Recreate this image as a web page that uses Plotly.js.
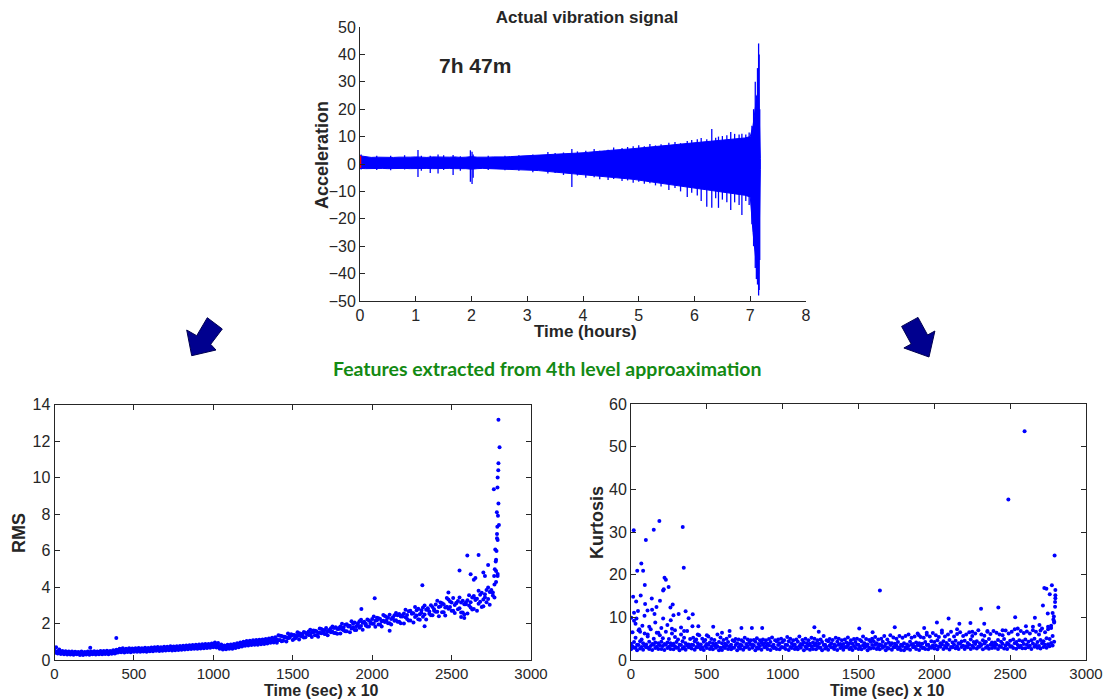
<!DOCTYPE html>
<html>
<head>
<meta charset="utf-8">
<script src="https://cdn.plot.ly/plotly-3.0.1.min.js"></script>
<style>html,body{margin:0;padding:0;background:#fff;}#chart{width:1112px;height:700px;}</style>
</head>
<body>
<div id="chart"></div>
<script>
// ---------- Actual vibration signal (hours vs acceleration envelope) ----------
const vibT = [0,0.1,0.2,0.3,0.4,0.5,0.6,0.7,0.8,0.9,
  1.0,1.1,1.2,1.3,1.4,1.5,1.6,1.7,1.8,1.9,
  2.0,2.1,2.2,2.3,2.4,2.5,2.6,2.7,2.8,2.9,
  3.0,3.1,3.2,3.3,3.4,3.5,3.6,3.7,3.8,3.9,
  4.0,4.1,4.2,4.3,4.4,4.5,4.6,4.7,4.8,4.9,
  5.0,5.1,5.2,5.3,5.4,5.5,5.6,5.7,5.8,5.9,
  6.0,6.1,6.2,6.3,6.4,6.5,6.6,6.7,6.8,6.9,
  7.0,7.05,7.1,7.15,7.18];
const vibUp = [3.0,2.6,2.4,2.5,2.4,2.5,2.4,2.5,2.4,2.5,
  2.6,2.5,2.4,2.6,2.5,2.4,2.5,2.6,2.4,2.5,
  2.7,2.5,2.4,2.5,2.6,2.5,2.6,2.7,2.8,2.9,
  3.0,3.0,3.1,3.3,3.4,3.5,3.6,3.7,3.9,4.0,
  4.1,4.3,4.4,4.6,4.8,5.0,5.1,5.3,5.5,5.6,
  5.8,6.0,6.1,6.3,6.5,6.7,6.9,7.1,7.3,7.5,
  7.7,7.9,8.1,8.3,8.5,8.7,8.9,9.1,9.3,9.5,
  10,14,22,28,2];
const vibLo = [-1.6,-1.7,-1.6,-1.7,-1.6,-1.7,-1.6,-1.7,-1.6,-1.7,
  -1.8,-1.7,-1.6,-1.7,-1.8,-1.7,-1.6,-1.7,-1.8,-1.7,
  -1.9,-1.7,-1.6,-1.7,-1.8,-1.8,-1.9,-2.0,-2.0,-2.1,
  -2.2,-2.3,-2.4,-2.6,-2.8,-3.0,-3.1,-3.3,-3.5,-3.6,
  -3.8,-4.0,-4.2,-4.4,-4.6,-4.8,-5.0,-5.2,-5.4,-5.6,
  -5.8,-6.0,-6.3,-6.6,-6.9,-7.2,-7.5,-7.8,-8.1,-8.4,
  -8.7,-9.0,-9.3,-9.6,-9.9,-10.2,-10.5,-10.8,-11.1,-11.4,
  -12,-25,-35,-40,-2];
// individual spikes: time, positive peak, negative peak
const spikeT  = [0.02,0.3,0.55,0.8,1.04,1.1,1.26,1.4,1.5,1.67,1.8,1.98,2.01,2.03,2.3,2.6,2.85,3.1,3.37,3.5,3.65,3.8,3.9,4.05,4.2,4.3,4.45,4.55,4.7,4.8,4.9,5.0,5.1,5.2,5.3,5.4,5.54,5.65,5.75,5.87,5.95,6.05,6.12,6.22,6.31,6.38,6.43,6.5,6.58,6.65,6.72,6.8,6.85,6.92,6.98,7.03,7.06,7.09,7.11,7.13,7.15,7.16,7.17];
const spikeHi = [3.5,3,3,3.2,5.1,3,3,3.5,3.2,3.3,2.8,5,4.5,3.5,3,3,3.2,3.5,4.4,4,4.2,5.5,4.6,4.8,5.5,4.8,5.2,6,5.8,6.2,6.5,6.8,6.5,7.3,6.8,7.2,7.8,8,7.6,8.4,8.8,9,9.5,9,12.8,9.6,10,10.2,10.5,11.7,11,10.8,11,10.8,11.5,14,20,30,25,35,44,40,20];
const spikeLo = [-2,-2.2,-2.3,-2,-4.7,-2.5,-3.3,-3.5,-2.2,-4,-2.5,-6.5,-7.3,-5,-2.2,-2.3,-2.5,-3,-3.5,-3.3,-4,-8.4,-4.2,-5,-4.8,-5.6,-5.8,-5.5,-6.2,-6,-6.8,-6.5,-7.2,-7,-7.8,-8.2,-9.5,-8.8,-10,-12,-10.5,-11.5,-13.5,-15.6,-16,-12.5,-16,-13,-14,-16.8,-14,-15,-18.6,-13.5,-15,-22,-30,-38,-42,-44,-48,-46,-35];
const redT = [0,0];
const redY = [-1.5,3];

// ---------- sample positions for the feature plots (Time (sec) x 10) ----------
const sampleX = [0,20,40,60,80,100,120,140,160,180,200,220,240,260,280,300,320,340,360,380,
  400,420,440,460,480,500,520,540,560,580,600,620,640,660,680,700,720,740,760,780,
  800,820,840,860,880,900,920,940,960,980,1000,1020,1040,1060,1080,1100,1120,1140,1160,1180,
  1200,1220,1240,1260,1280,1300,1320,1340,1360,1380,1400,1420,1440,1460,1480,1500,1520,1540,1560,1580,
  1600,1620,1640,1660,1680,1700,1720,1740,1760,1780,1800,1820,1840,1860,1880,1900,1920,1940,1960,1980,
  2000,2020,2040,2060,2080,2100,2120,2140,2160,2180,2200,2220,2240,2260,2280,2300,2320,2340,2360,2380,
  2400,2420,2440,2460,2480,2500,2520,2540,2560,2580,2600,2620,2640,2660,2680,2700,2720,2740,2760,2780];
const sampleXb = [10,30,50,70,90,110,130,150,170,190,210,230,250,270,290,310,330,350,370,390,
  410,430,450,470,490,510,530,550,570,590,610,630,650,670,690,710,730,750,770,790,
  810,830,850,870,890,910,930,950,970,990,1010,1030,1050,1070,1090,1110,1130,1150,1170,1190,
  1210,1230,1250,1270,1290,1310,1330,1350,1370,1390,1410,1430,1450,1470,1490,1510,1530,1550,1570,1590,
  1610,1630,1650,1670,1690,1710,1730,1750,1770,1790,1810,1830,1850,1870,1890,1910,1930,1950,1970,1990,
  2010,2030,2050,2070,2090,2110,2130,2150,2170,2190,2210,2230,2250,2270,2290,2310,2330,2350,2370,2390,
  2410,2430,2450,2470,2490,2510,2530,2550,2570,2590,2610,2630,2650,2670,2690,2710,2730,2750,2770,2790];

// RMS cloud readings (rows 1 and 3 at sampleX, rows 2 and 4 at sampleXb)
const rmsR1 = [.38,.36,.33,.32,.30,.30,.29,.31,.28,.28, .30,.29,.31,.30,.31,.31,.33,.32,.34,.36,
  .41,.43,.41,.44,.42,.45,.45,.45,.46,.45, .48,.48,.51,.49,.51,.52,.53,.52,.54,.55,
  .56,.58,.59,.60,.61,.62,.63,.64,.66,.67, .70,.68,.61,.57,.59,.61,.62,.66,.70,.74,
  .78,.80,.82,.83,.84,.86,.88,.91,.94,.96,
  0.95,1.09,1.06,1.01,1.22,1.10,1.20,1.12,1.29,1.25,
  1.37,1.26,1.36,1.27,1.46,1.42,1.36,1.52,1.48,1.44,
  1.45,1.63,1.57,1.52,1.79,1.64,1.77,1.66,1.89,1.84,
  1.98,1.82,1.95,1.84,2.08,2.02,1.95,2.15,2.09,2.02,
  2.00,2.25,2.16,2.06,2.44,2.21,2.37,2.22,2.53,2.45,
  2.64,2.40,2.61,2.44,2.81,2.70,2.57,2.78,2.60,2.50,
  2.55,2.88,2.79,2.70,3.19,2.94,3.17,3.03,3.53,4.27];
const rmsR2 = [.45,.41,.40,.37,.36,.35,.34,.36,.35,.33, .35,.34,.36,.36,.37,.36,.38,.38,.39,.41,
  .47,.49,.48,.50,.49,.51,.52,.51,.53,.52, .54,.55,.57,.56,.58,.58,.60,.59,.61,.62,
  .63,.65,.66,.67,.68,.69,.70,.71,.73,.75, .78,.76,.68,.64,.66,.68,.70,.74,.78,.81,
  .86,.88,.90,.91,.93,.94,.96,1.00,1.02,1.05,
  1.08,1.03,1.23,1.19,1.33,1.17,1.31,1.31,1.23,1.42,
  1.37,1.52,1.36,1.50,1.51,1.42,1.63,1.55,1.48,1.70,
  1.69,1.57,1.84,1.73,1.64,1.91,1.86,2.04,1.83,2.02,
  1.98,2.18,1.95,2.15,2.15,2.02,2.32,2.18,2.09,2.38,
  2.34,2.17,2.53,2.35,2.23,2.59,2.50,2.75,2.45,2.70,
  2.64,2.95,2.61,2.92,2.91,2.70,3.12,2.83,2.60,3.05,
  2.99,2.77,3.29,3.08,2.91,3.44,3.34,3.72,3.42,4.60];
const rmsR3 = [.52,.48,.45,.43,.42,.41,.40,.41,.40,.39, .41,.40,.42,.41,.43,.43,.44,.43,.46,.48,
  .54,.56,.55,.57,.56,.58,.59,.58,.60,.59, .61,.62,.64,.63,.65,.66,.67,.66,.68,.69,
  .70,.72,.73,.74,.75,.76,.77,.78,.80,.82, .87,.84,.76,.72,.74,.77,.79,.83,.87,.91,
  .95,.97,.99,1.00,1.02,1.03,1.05,1.09,1.12,1.15,
  1.13,1.33,1.28,1.23,1.37,1.37,1.33,1.46,1.40,1.49,
  1.56,1.50,1.60,1.48,1.70,1.63,1.58,1.74,1.75,1.70,
  1.84,1.78,1.96,1.88,2.00,1.85,2.13,2.04,1.98,2.17,
  2.25,2.15,2.29,2.12,2.41,2.32,2.25,2.45,2.45,2.38,
  2.55,2.46,2.70,2.56,2.73,2.51,2.87,2.75,2.66,2.91,
  3.04,2.90,3.11,2.87,3.31,3.15,3.02,3.23,3.15,3.05,
  3.27,3.16,3.51,3.36,3.58,3.32,3.84,3.72,3.70,4.88];
const rmsR4 = [.70,.58,.50,.48,.46,.47,.45,.44,.46,.44, .46,.47,.48,.46,.50,.49,.51,.49,.53,.56,
  .61,.64,.62,.64,.63,.65,.66,.65,.67,.66, .68,.70,.71,.70,.73,.73,.75,.74,.76,.77,
  .78,.80,.81,.82,.83,.85,.86,.87,.88,.91, .96,.93,.85,.80,.83,.85,.88,.92,.96,1.00,
  1.04,1.06,1.08,1.09,1.11,1.13,1.15,1.18,1.22,1.25,
  1.35,1.31,1.28,1.45,1.41,1.37,1.52,1.44,1.54,1.42,
  1.66,1.62,1.58,1.73,1.65,1.75,1.63,1.84,1.79,1.75,
  1.99,1.93,1.87,2.12,2.06,2.00,2.21,2.10,2.22,2.08,
  2.38,2.31,2.25,2.46,2.35,2.48,2.32,2.58,2.52,2.45,
  2.76,2.67,2.58,2.90,2.81,2.72,2.98,2.83,3.00,2.78,
  3.24,3.15,3.06,3.40,3.21,3.40,3.12,3.43,3.25,3.15,
  3.55,3.43,3.35,3.80,3.69,3.60,3.97,3.83,4.14,4.71];
// RMS isolated points and final run-up
const rmsOutX = [389,225,2016,1932,2316,2599,2670,2766,2775,2780,2783,2786,2788,2790,2792,2795,2795,2795,2798,2802,2790,2785,2778,2772,2768,2786,2794,2789,2550,2620,2650,2700,2730,2110,2330,2580,2640,2710,2480,2560];
const rmsOutY = [1.21,0.67,3.39,2.79,4.1,5.72,5.76,9.36,6.05,5.5,5.97,6.67,7.3,6.58,7.9,13.17,10.78,8.57,7.4,11.66,10.0,8.1,5.4,4.97,4.6,6.9,10.4,9.45,4.9,4.7,4.5,4.8,5.2,1.6,1.85,2.3,4.4,4.6,3.7,2.35];

// Kurtosis cloud readings (A and C at sampleX, B and D at sampleXb)
const kurA = [2.5,2.9,2.3,2.7,2.4,3.0,2.6,2.35,2.8,2.55, 2.6,2.35,2.8,2.55,2.5,2.9,2.3,2.7,2.4,3.0,
  2.7,2.4,3.0,2.6,2.35,2.8,2.55,2.5,2.9,2.3, 2.35,2.8,2.55,2.5,2.9,2.3,2.7,2.4,3.0,2.6,
  2.9,2.3,2.7,2.4,3.0,2.6,2.35,2.8,2.55,2.5, 3.0,2.6,2.35,2.8,2.55,2.5,2.9,2.3,2.7,2.4,
  2.55,2.5,2.9,2.3,2.7,2.4,3.0,2.6,2.35,2.8, 2.4,3.0,2.6,2.35,2.8,2.55,2.5,2.9,2.3,2.7,
  2.8,2.55,2.5,2.9,2.3,2.7,2.4,3.0,2.6,2.35, 2.3,2.7,2.4,3.0,2.6,2.35,2.8,2.55,2.5,2.9,
  2.7,2.5,3.1,2.6,2.9,2.45,3.0,2.75,2.55,3.05, 2.6,3.0,2.55,2.85,2.7,3.1,2.5,2.9,2.65,2.8,
  2.9,2.6,3.05,2.7,2.55,3.1,2.8,2.65,3.0,2.75, 2.75,3.0,2.6,3.1,2.85,2.7,3.05,2.9,3.2,3.4];
const kurB = [3.2,2.9,3.5,3.05,3.4,2.95,3.3,3.6,3.1,3.45, 3.3,3.6,3.1,3.45,3.2,2.9,3.5,3.05,3.4,2.95,
  3.5,3.05,3.4,2.95,3.3,3.6,3.1,3.45,3.2,2.9, 3.1,3.45,3.2,2.9,3.5,3.05,3.4,2.95,3.3,3.6,
  3.4,2.95,3.3,3.6,3.1,3.45,3.2,2.9,3.5,3.05, 2.9,3.5,3.05,3.4,2.95,3.3,3.6,3.1,3.45,3.2,
  3.45,3.2,2.9,3.5,3.05,3.4,2.95,3.3,3.6,3.1, 3.05,3.4,2.95,3.3,3.6,3.1,3.45,3.2,2.9,3.5,
  3.6,3.1,3.45,3.2,2.9,3.5,3.05,3.4,2.95,3.3, 2.95,3.3,3.6,3.1,3.45,3.2,2.9,3.5,3.05,3.4,
  3.4,3.15,3.7,3.3,3.55,3.05,3.6,3.25,3.8,3.35, 3.25,3.65,3.35,3.75,3.1,3.5,3.85,3.3,3.6,3.45,
  3.55,3.3,3.8,3.4,3.7,3.2,3.9,3.5,3.35,3.75, 3.6,3.35,3.85,3.5,3.3,3.95,3.55,3.7,4.0,4.3];
const kurC = [3.8,4.2,3.6,4.4,3.9,3.65,4.3,3.75,4.1,3.95, 4.3,3.75,4.1,3.95,3.8,4.2,3.6,4.4,3.9,3.65,
  3.6,4.4,3.9,3.65,4.3,3.75,4.1,3.95,3.8,4.2, 3.95,3.8,4.2,3.6,4.4,3.9,3.65,4.3,3.75,4.1,
  3.65,4.3,3.75,4.1,3.95,3.8,4.2,3.6,4.4,3.9, 4.2,3.6,4.4,3.9,3.65,4.3,3.75,4.1,3.95,3.8,
  4.1,3.95,3.8,4.2,3.6,4.4,3.9,3.65,4.3,3.75, 3.75,4.1,3.95,3.8,4.2,3.6,4.4,3.9,3.65,4.3,
  4.4,3.9,3.65,4.3,3.75,4.1,3.95,3.8,4.2,3.6, 3.9,3.65,4.3,3.75,4.1,3.95,3.8,4.2,3.6,4.4,
  4.2,4.6,3.9,4.4,4.0,4.7,4.1,4.5,3.95,4.35, 4.5,4.0,4.8,4.2,4.4,3.9,4.6,4.3,4.9,4.1,
  4.1,4.7,4.3,4.9,4.0,4.5,4.8,4.2,4.6,4.4, 4.8,4.3,4.6,5.0,4.2,4.7,4.4,5.1,4.9,5.6];
const kurD = [6.5,5.2,7.0,4.8,6.2,5.5,7.2,5.0,6.4,5.8, 5.1,6.6,4.9,7.3,5.4,4.8,6.0,5.2,6.8,4.9,
  5.2,4.8,5.8,5.0,4.7,5.5,4.9,4.7,6.0,5.3, 4.7,5.0,5.6,4.6,4.9,4.8,4.6,5.2,4.8,4.6,
  4.7,5.1,4.6,4.8,4.6,4.9,5.3,4.6,4.8,5.0, 4.6,5.4,5.0,4.6,4.8,5.5,4.7,5.0,4.6,5.2,
  5.0,4.6,4.8,5.6,4.6,4.9,4.7,5.2,5.0,4.6, 4.8,5.3,4.6,4.9,5.0,4.7,5.5,4.9,4.7,5.0,
  5.4,4.8,5.0,5.6,4.8,5.8,5.3,5.0,5.6,5.2, 5.6,6.0,5.2,5.5,6.2,5.4,5.2,5.9,5.5,6.3,
  5.8,5.4,6.4,5.5,6.0,6.6,5.5,6.1,6.5,5.6, 6.0,6.5,5.6,6.2,7.0,6.0,5.7,6.6,6.1,6.8,
  6.4,6.0,5.8,6.9,6.2,6.6,7.2,6.0,6.8,6.3, 6.7,6.2,7.0,6.6,6.0,7.4,6.5,7.2,8.0,9.0];
// Kurtosis isolated points
const kurOutX = [18,68,41,80,98,91,187,150,341,348,221,230,216,212,248,2595,2488,2793,1641,2725,2739,2775,2761,2798,2798,2798,2796,2796,2308,2422,
  14,34,64,93,137,191,275,260,139,168,46,20,2,20,36,89,109,155,212,280,314,360,407,380,262,
  2094,2017,2165,2238,2329,2663,2533,2604,2693,2716,2748,1209,1238,728,797,865,542,444,405,1505,1593,1739,1933,1898,
  30,55,75,120,160,200,240,290,330,60,110,180,270,350,440,500,600,650,
  2780,2785,2790,2770,2788,2450,2550,2650,2350,2150,2250,2050,1950,2700,2750];
const kurOutY = [30.4,22.6,20.9,20.9,28.1,17.6,32.6,30.5,31.2,21.6,19.3,18.8,16.6,16.3,17.1,53.6,37.6,24.5,16.3,16.9,16.7,17.5,15.4,16.4,15.2,14.5,13.6,12.5,12,12.3,
  14.8,13.7,15.1,13.1,14.4,13.9,13,12.3,11.8,12.4,11.5,11.1,9.9,9.2,9.7,10.4,11.6,10.8,9.7,10.5,10.8,11.4,10.7,9.8,9.3,
  9.7,8.8,8.5,8.7,8.5,9.9,10,7.9,8.2,12.8,10.9,7.7,6.6,7.5,7.5,7.5,7.8,7.9,7.9,7.4,6.5,7.7,7.5,5.8,
  8.5,7.2,8.0,7.8,8.8,7.5,8.2,7.0,7.6,6.6,6.0,6.4,6.2,6.8,6.0,5.8,6.4,6.8,
  11,9.5,8.8,7.5,10.2,7,7.4,7.8,6.8,7.2,6.6,6.9,6.4,6.9,7.8];

// ---------- build traces ----------
const BLUE = '#0000ff';
const spX = [], spY = [];
spikeT.forEach((t,i)=>{ spX.push(t,t,null); spY.push(spikeHi[i],spikeLo[i],null); });

const traces = [
  {x: vibT.concat(vibT.slice().reverse()), y: vibUp.concat(vibLo.slice().reverse()),
   type:'scatter', mode:'lines', fill:'toself', fillcolor:BLUE,
   line:{color:BLUE,width:1}, xaxis:'x', yaxis:'y', hoverinfo:'skip', showlegend:false},
  {x: spX, y: spY, type:'scatter', mode:'lines', line:{color:BLUE,width:1.3},
   xaxis:'x', yaxis:'y', connectgaps:false, showlegend:false},
  {x: redT, y: redY, type:'scatter', mode:'lines', line:{color:'#ff0000',width:2.5},
   xaxis:'x', yaxis:'y', showlegend:false}
];
const mk = {color:BLUE, size:4};
function pts(xs, ys, xa, ya){ return {x:xs, y:ys, type:'scatter', mode:'markers', marker:mk, xaxis:xa, yaxis:ya, showlegend:false}; }
traces.push(pts(sampleX, rmsR1,'x2','y2'), pts(sampleXb, rmsR2,'x2','y2'), pts(sampleX, rmsR3,'x2','y2'), pts(sampleXb, rmsR4,'x2','y2'), pts(rmsOutX, rmsOutY,'x2','y2'));
traces.push(pts(sampleX, kurA,'x3','y3'), pts(sampleXb, kurB,'x3','y3'), pts(sampleX, kurC,'x3','y3'), pts(sampleXb, kurD,'x3','y3'), pts(kurOutX, kurOutY,'x3','y3'));

// ---------- layout helpers ----------
const W = 1112, H = 700;
const px = v => v / W, py = v => 1 - v / H;
const AX = '#262626';
const FAM = '"Liberation Sans", Arial, sans-serif';
function axis(range, dtick, dom, anchor, boxed, fs){
  return {range:range, dtick:dtick, tick0:0, domain:dom, anchor:anchor,
    showgrid:false, zeroline:false, showline:true, linecolor:AX, linewidth:1,
    mirror: boxed ? 'ticks' : false, ticks:'inside', ticklen:5, tickcolor:AX,
    tickfont:{family:FAM, size:fs, color:AX}, fixedrange:true};
}
function arrowPath(p){
  return p.map((q,i)=>(i?'L':'M')+px(q[0]).toFixed(5)+','+py(q[1]).toFixed(5)).join(' ')+' Z';
}
const leftArrow  = [[191.7,355.7],[186.7,330],[196.7,335.7],[207.3,317.7],[222.3,329],[210.7,344.3],[216,350]];
const rightArrow = [[929,357],[934.9,331],[927.6,335],[918,317.4],[901.6,326.4],[911.2,344],[903.9,348]];

function lab(text, x, y, size, angle){
  return {text:'<b>'+text+'</b>', x:px(x), y:py(y), xref:'paper', yref:'paper', showarrow:false,
    xanchor:'center', yanchor:'middle', textangle:angle||0,
    font:{family:FAM, size:size, color:AX}};
}

const layout = {
  width:W, height:H, margin:{l:0,r:0,t:0,b:0}, paper_bgcolor:'#fff', plot_bgcolor:'#fff',
  showlegend:false,
  title:{text:'<b>Actual vibration signal</b>', x:px(587), y:py(17), xref:'paper', yref:'paper',
         xanchor:'center', yanchor:'middle', font:{family:FAM, size:17, color:AX}},
  xaxis:  axis([0,8],1,[px(360),px(806)],'y',false,16),
  yaxis:  axis([-50,50],10,[py(301),py(27)],'x',false,16),
  xaxis2: axis([0,3000],500,[px(54.5),px(531)],'y2',true,15),
  yaxis2: axis([0,14],2,[py(660),py(404.5)],'x2',true,16),
  xaxis3: axis([0,3000],500,[px(631),px(1086)],'y3',true,15),
  yaxis3: axis([0,60],10,[py(660),py(404)],'x3',true,16),
  shapes:[
    {type:'path', xref:'paper', yref:'paper', path:arrowPath(leftArrow), fillcolor:'#00008f', line:{color:'#000050',width:1}},
    {type:'path', xref:'paper', yref:'paper', path:arrowPath(rightArrow), fillcolor:'#00008f', line:{color:'#000050',width:1}}
  ],
  annotations:[
    lab('Time (hours)', 585, 331, 17),
    lab('Acceleration', 322, 155, 18, -90),
    lab('7h 47m', 475, 65, 21),
    lab('RMS', 19, 533, 18, -90),
    lab('Time (sec) x 10', 321, 690, 16),
    lab('Kurtosis', 597, 523, 18, -90),
    lab('Time (sec) x 10', 887, 690, 16),
    {text:'<b>Features extracted from 4th level approaximation</b>', x:px(547), y:py(368), xref:'paper', yref:'paper',
     showarrow:false, xanchor:'center', yanchor:'middle', font:{family:'Lato, "Open Sans", sans-serif', size:19.5, color:'#138a13'}}
  ]
};
Plotly.newPlot('chart', traces, layout, {displayModeBar:false, staticPlot:true});
</script>
</body>
</html>
